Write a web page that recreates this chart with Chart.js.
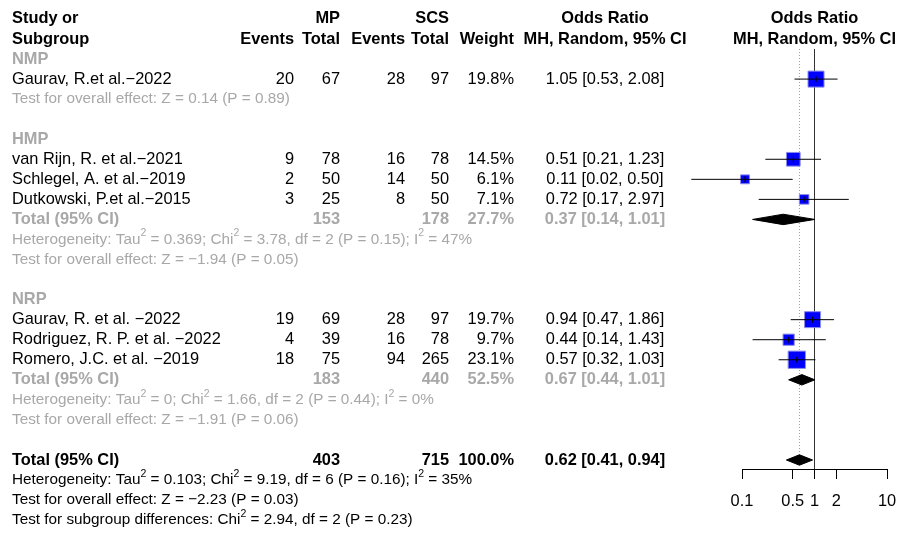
<!DOCTYPE html>
<html>
<head>
<meta charset="utf-8">
<title>Forest plot: MP vs SCS</title>
<script src="https://cdn.jsdelivr.net/npm/chart.js@4.4.1/dist/chart.umd.min.js"></script>
<style>
  html, body { margin: 0; padding: 0; background: #ffffff; }
  canvas { display: block; }
</style>
</head>
<body>
<canvas id="forest" width="902" height="534"></canvas>
<script>
// ---- Study level data ----
const studyNames = [
  'Gaurav, R.et al.−2022',
  'van Rijn, R. et al.−2021',
  'Schlegel, A. et al.−2019',
  'Dutkowski, P.et al.−2015',
  'Gaurav, R. et al. −2022',
  'Rodriguez, R. P. et al. −2022',
  'Romero, J.C. et al. −2019'
];
const studyGroup = [0, 1, 1, 1, 2, 2, 2];
const eventsMP   = [20, 9, 2, 3, 19, 4, 18];
const totalMP    = [67, 78, 50, 25, 69, 39, 75];
const eventsSCS  = [28, 16, 14, 8, 28, 16, 94];
const totalSCS   = [97, 78, 50, 50, 97, 78, 265];
const weights    = [19.8, 14.5, 6.1, 7.1, 19.7, 9.7, 23.1];
const oddsRatio  = [1.05, 0.51, 0.11, 0.72, 0.94, 0.44, 0.57];
const ciLower    = [0.53, 0.21, 0.02, 0.17, 0.47, 0.14, 0.32];
const ciUpper    = [2.08, 1.23, 0.50, 2.97, 1.86, 1.43, 1.03];

// ---- Subgroups ----
const groupNames    = ['NMP', 'HMP', 'NRP'];
const groupTotalMP  = [67, 153, 183];
const groupTotalSCS = [97, 178, 440];
const groupWeight   = [19.8, 27.7, 52.5];
const groupOR       = [1.05, 0.37, 0.67];
const groupLower    = [0.53, 0.14, 0.44];
const groupUpper    = [2.08, 1.01, 1.01];
const groupHet = [
  null,
  'Heterogeneity: Tau^2 = 0.369; Chi^2 = 3.78, df = 2 (P = 0.15); I^2 = 47%',
  'Heterogeneity: Tau^2 = 0; Chi^2 = 1.66, df = 2 (P = 0.44); I^2 = 0%'
];
const groupTest = [
  'Test for overall effect: Z = 0.14 (P = 0.89)',
  'Test for overall effect: Z = −1.94 (P = 0.05)',
  'Test for overall effect: Z = −1.91 (P = 0.06)'
];

// ---- Overall ----
const overallTotalMP  = 403;
const overallTotalSCS = 715;
const overallWeight   = 100.0;
const overallOR    = 0.62;
const overallLower = 0.41;
const overallUpper = 0.94;
const overallHet   = 'Heterogeneity: Tau^2 = 0.103; Chi^2 = 9.19, df = 6 (P = 0.16); I^2 = 35%';
const overallTest  = 'Test for overall effect: Z = −2.23 (P = 0.03)';
const subgroupTest = 'Test for subgroup differences: Chi^2 = 2.94, df = 2 (P = 0.23)';

// ---- Axis ----
const axisTicks = [0.1, 0.5, 1, 2, 10];

// ---- Layout / style constants ----
const FONT = "'Liberation Sans', Arial, Helvetica, sans-serif";
const FS = 16.4;        // table text
const FS_NOTE = 15.3;   // heterogeneity / test lines
const FS_SUP = 10.5;    // superscripts
const BLACK = '#000000';
const GRAY = '#A8A8A8';
const COL = { name: 12, evMP: 294, totMP: 340, evSCS: 405, totSCS: 449, weight: 514, ci: 605 };
const Y_MIN = -0.945, Y_MAX = 22.449;  // row units spanned by the plotting area
const DIAMOND_H = 0.26;                // half height of a summary diamond, in rows
const SQUARE_K = 3.6;                  // square side = SQUARE_K * sqrt(weight)
const REF_TOP = 1.5;                   // vertical reference lines start here

// ---- Row structure ----
const rows = [];
rows.push({ type: 'head1' });
rows.push({ type: 'head2' });
groupNames.forEach((g, gi) => {
  rows.push({ type: 'group', g: gi });
  studyGroup.forEach((sg, si) => { if (sg === gi) rows.push({ type: 'study', i: si }); });
  const n = studyGroup.filter(s => s === gi).length;
  if (n > 1) {
    rows.push({ type: 'gtotal', g: gi });
    rows.push({ type: 'note', text: groupHet[gi], color: GRAY });
  }
  rows.push({ type: 'note', text: groupTest[gi], color: GRAY });
  rows.push({ type: 'blank' });
});
rows.push({ type: 'total' });
rows.push({ type: 'note', text: overallHet, color: BLACK });
rows.push({ type: 'note', text: overallTest, color: BLACK });
rows.push({ type: 'note', text: subgroupTest, color: BLACK });

const studyRow = studyNames.map((_, i) => rows.findIndex(r => r.type === 'study' && r.i === i));
const groupTotalRow = groupNames.map((_, g) => rows.findIndex(r => r.type === 'gtotal' && r.g === g));
const totalRow = rows.findIndex(r => r.type === 'total');

// ---- Datasets ----
const datasets = [];

// reference line at OR = 1 and dotted line at the pooled estimate
datasets.push({
  data: [{ x: 1, y: REF_TOP }, { x: 1, y: Y_MAX }],
  showLine: true, borderColor: '#333333', borderWidth: 1, pointRadius: 0, order: 20, clip: false
});
datasets.push({
  data: [{ x: overallOR, y: REF_TOP }, { x: overallOR, y: totalRow - DIAMOND_H }],
  showLine: true, borderColor: '#9A9A9A', borderWidth: 1, borderDash: [1, 2], pointRadius: 0, order: 19, clip: false
});

// weighted squares
datasets.push({
  data: oddsRatio.map((v, i) => ({ x: v, y: studyRow[i] })),
  showLine: false,
  pointStyle: 'rect',
  pointRadius: ctx => SQUARE_K * Math.sqrt(weights[ctx.dataIndex]) / 2 / Math.SQRT1_2,
  backgroundColor: '#0000FF', borderColor: '#8C8CE8', borderWidth: 1,
  order: 10, clip: false
});

// confidence interval whiskers
oddsRatio.forEach((v, i) => {
  datasets.push({
    data: [{ x: ciLower[i], y: studyRow[i] }, { x: ciUpper[i], y: studyRow[i] }],
    showLine: true, borderColor: BLACK, borderWidth: 1, pointRadius: 0, order: 5, clip: false
  });
});

// small vertical tick at each point estimate
datasets.push({
  data: oddsRatio.map((v, i) => ({ x: v, y: studyRow[i] })),
  showLine: false, pointStyle: 'line', pointRotation: 90, pointRadius: 3,
  borderColor: BLACK, borderWidth: 1, order: 4, clip: false
});

// summary diamonds
function diamond(est, lo, hi, r) {
  return {
    data: [
      { x: lo, y: r }, { x: est, y: r - DIAMOND_H }, { x: hi, y: r },
      { x: est, y: r + DIAMOND_H }, { x: lo, y: r }
    ],
    showLine: true, fill: 'shape', tension: 0,
    backgroundColor: BLACK, borderColor: BLACK, borderWidth: 1, pointRadius: 0, order: 3, clip: false
  };
}
groupNames.forEach((g, gi) => {
  if (groupTotalRow[gi] >= 0) datasets.push(diamond(groupOR[gi], groupLower[gi], groupUpper[gi], groupTotalRow[gi]));
});
datasets.push(diamond(overallOR, overallLower, overallUpper, totalRow));

// ---- Table text ----
function fmtCI(e, l, u) { return `${e.toFixed(2)} [${l.toFixed(2)}, ${u.toFixed(2)}]`; }

function txt(ctx, s, x, y, align, bold, color) {
  ctx.font = `${bold ? 'bold ' : ''}${FS}px ${FONT}`;
  ctx.textAlign = align;
  ctx.fillStyle = color;
  ctx.fillText(s, x, y);
}

function rich(ctx, s, x, y, color) {
  const parts = s.split('^2');
  let cx = x;
  ctx.textAlign = 'left';
  ctx.fillStyle = color;
  parts.forEach((p, i) => {
    ctx.font = `${FS_NOTE}px ${FONT}`;
    ctx.fillText(p, cx, y);
    cx += ctx.measureText(p).width;
    if (i < parts.length - 1) {
      ctx.font = `${FS_SUP}px ${FONT}`;
      ctx.fillText('2', cx, y - 6);
      cx += ctx.measureText('2').width;
    }
  });
}

const tablePlugin = {
  id: 'forestTable',
  afterDatasetsDraw(chart) {
    const ctx = chart.ctx;
    const ys = chart.scales.y;
    const xs = chart.scales.x;
    const plotCenter = xs.getPixelForValue(1);
    ctx.save();
    ctx.textBaseline = 'middle';
    rows.forEach((r, idx) => {
      const y = ys.getPixelForValue(idx);
      switch (r.type) {
        case 'head1':
          txt(ctx, 'Study or', COL.name, y, 'left', true, BLACK);
          txt(ctx, 'MP', COL.totMP, y, 'right', true, BLACK);
          txt(ctx, 'SCS', COL.totSCS, y, 'right', true, BLACK);
          txt(ctx, 'Odds Ratio', COL.ci, y, 'center', true, BLACK);
          txt(ctx, 'Odds Ratio', plotCenter, y, 'center', true, BLACK);
          break;
        case 'head2':
          txt(ctx, 'Subgroup', COL.name, y, 'left', true, BLACK);
          txt(ctx, 'Events', COL.evMP, y, 'right', true, BLACK);
          txt(ctx, 'Total', COL.totMP, y, 'right', true, BLACK);
          txt(ctx, 'Events', COL.evSCS, y, 'right', true, BLACK);
          txt(ctx, 'Total', COL.totSCS, y, 'right', true, BLACK);
          txt(ctx, 'Weight', COL.weight, y, 'right', true, BLACK);
          txt(ctx, 'MH, Random, 95% CI', COL.ci, y, 'center', true, BLACK);
          txt(ctx, 'MH, Random, 95% CI', plotCenter, y, 'center', true, BLACK);
          break;
        case 'group':
          txt(ctx, groupNames[r.g], COL.name, y, 'left', true, GRAY);
          break;
        case 'study': {
          const i = r.i;
          txt(ctx, studyNames[i], COL.name, y, 'left', false, BLACK);
          txt(ctx, String(eventsMP[i]), COL.evMP, y, 'right', false, BLACK);
          txt(ctx, String(totalMP[i]), COL.totMP, y, 'right', false, BLACK);
          txt(ctx, String(eventsSCS[i]), COL.evSCS, y, 'right', false, BLACK);
          txt(ctx, String(totalSCS[i]), COL.totSCS, y, 'right', false, BLACK);
          txt(ctx, weights[i].toFixed(1) + '%', COL.weight, y, 'right', false, BLACK);
          txt(ctx, fmtCI(oddsRatio[i], ciLower[i], ciUpper[i]), COL.ci, y, 'center', false, BLACK);
          break;
        }
        case 'gtotal': {
          const g = r.g;
          txt(ctx, 'Total (95% CI)', COL.name, y, 'left', true, GRAY);
          txt(ctx, String(groupTotalMP[g]), COL.totMP, y, 'right', true, GRAY);
          txt(ctx, String(groupTotalSCS[g]), COL.totSCS, y, 'right', true, GRAY);
          txt(ctx, groupWeight[g].toFixed(1) + '%', COL.weight, y, 'right', true, GRAY);
          txt(ctx, fmtCI(groupOR[g], groupLower[g], groupUpper[g]), COL.ci, y, 'center', true, GRAY);
          break;
        }
        case 'total':
          txt(ctx, 'Total (95% CI)', COL.name, y, 'left', true, BLACK);
          txt(ctx, String(overallTotalMP), COL.totMP, y, 'right', true, BLACK);
          txt(ctx, String(overallTotalSCS), COL.totSCS, y, 'right', true, BLACK);
          txt(ctx, overallWeight.toFixed(1) + '%', COL.weight, y, 'right', true, BLACK);
          txt(ctx, fmtCI(overallOR, overallLower, overallUpper), COL.ci, y, 'center', true, BLACK);
          break;
        case 'note':
          rich(ctx, r.text, COL.name, y, r.color);
          break;
      }
    });
    ctx.restore();
  }
};

Chart.defaults.font.family = FONT;
Chart.defaults.font.size = FS;
Chart.defaults.color = BLACK;

new Chart(document.getElementById('forest'), {
  type: 'scatter',
  data: { datasets },
  options: {
    responsive: false,
    animation: false,
    devicePixelRatio: 1,
    events: [],
    layout: { autoPadding: false, padding: { left: 742, right: 15, top: 0, bottom: 0 } },
    plugins: { legend: { display: false }, tooltip: { enabled: false } },
    scales: {
      x: {
        type: 'logarithmic',
        position: 'bottom',
        min: 0.1,
        max: 10,
        afterBuildTicks: s => { s.ticks = axisTicks.map(v => ({ value: v })); },
        afterFit: s => { s.height = 65; s.paddingLeft = 0; s.paddingRight = 0; },
        ticks: {
          autoSkip: false, maxRotation: 0, minRotation: 0, padding: 13,
          color: BLACK, font: { size: FS },
          callback: v => String(v)
        },
        grid: { drawOnChartArea: false, drawTicks: true, tickLength: 10, color: BLACK, lineWidth: 1 },
        border: { display: true, color: BLACK, width: 1 }
      },
      y: {
        type: 'linear',
        reverse: true,
        min: Y_MIN,
        max: Y_MAX,
        display: false
      }
    }
  },
  plugins: [tablePlugin]
});
</script>
</body>
</html>
